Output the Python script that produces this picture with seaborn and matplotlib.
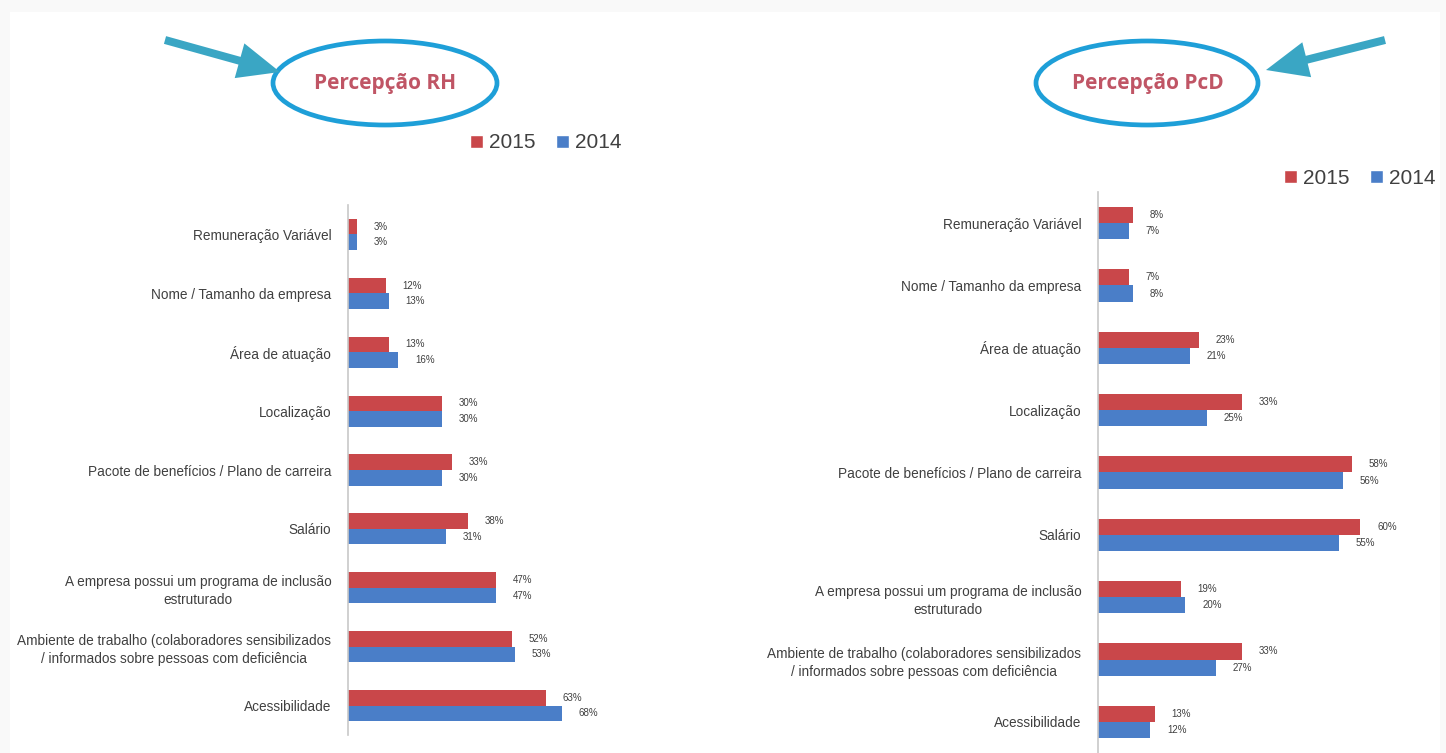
import matplotlib
matplotlib.use("Agg")
import matplotlib.pyplot as plt
import seaborn as sns
import pandas as pd
from matplotlib.patches import Ellipse, FancyArrow, Patch

categories = [
    "Remuneração Variável",
    "Nome / Tamanho da empresa",
    "Área de atuação",
    "Localização",
    "Pacote de benefícios / Plano de carreira",
    "Salário",
    "A empresa possui um programa de inclusão\nestruturado",
    "Ambiente de trabalho (colaboradores sensibilizados\n/ informados sobre pessoas com deficiência",
    "Acessibilidade",
]
years = ["2015", "2014"]
rh_2015 = [3, 12, 13, 30, 33, 38, 47, 52, 63]
rh_2014 = [3, 13, 16, 30, 30, 31, 47, 53, 68]
pcd_2015 = [8, 7, 23, 33, 58, 60, 19, 33, 13]
pcd_2014 = [7, 8, 21, 25, 56, 55, 20, 27, 12]
titles = ["Percepção RH", "Percepção PcD"]

RED = "#c9474a"
BLUE = "#4a7ec8"
TXT = "#404040"

sns.set_theme(style="white")
plt.rcParams["font.family"] = ["Liberation Sans", "DejaVu Sans"]

def long_df(v15, v14):
    rows = []
    for c, a, b in zip(categories, v15, v14):
        rows.append({"cat": c, "year": years[0], "val": a})
        rows.append({"cat": c, "year": years[1], "val": b})
    return pd.DataFrame(rows)

fig = plt.figure(figsize=(14.46, 7.53), dpi=100, facecolor="#f9f9f9")

# overlay for decorations in pixel coords
ov = fig.add_axes([0, 0, 1, 1], zorder=0)
ov.set_xlim(0, 1446)
ov.set_ylim(753, 0)
ov.axis("off")
ov.add_patch(plt.Rectangle((10, 12), 1430, 741, facecolor="white", edgecolor="none"))

W, H = 1446, 753
panels = [
    dict(x0=348, w=236, top=205, bot=735, data=(rh_2015, rh_2014), width=0.53,
         title_xy=(385, 83), ell=(385, 83, 224, 84),
         arrow=((165, 40), (280, 72)), leg=(546, 143)),
    dict(x0=1098, w=328, top=192, bot=753, data=(pcd_2015, pcd_2014), width=0.52,
         title_xy=(1148, 83), ell=(1147, 83, 222, 84),
         arrow=((1385, 40), (1266, 70)), leg=(1360, 178)),
]

for i, p in enumerate(panels):
    ax = fig.add_axes([p["x0"] / W, (H - p["bot"]) / H, p["w"] / W, (p["bot"] - p["top"]) / H], zorder=2)
    ax.set_facecolor("none")
    df = long_df(*p["data"])
    sns.barplot(data=df, y="cat", x="val", hue="year", orient="h",
                palette=[RED, BLUE], width=p["width"], ax=ax, legend=False,
                saturation=1, edgecolor="none")
    ax.set_xlim(0, 75)
    ax.set_xlabel("")
    ax.set_ylabel("")
    ax.set_xticks([])
    for s in ["top", "right", "bottom"]:
        ax.spines[s].set_visible(False)
    ax.spines["left"].set_color("#c8c8c8")
    ax.spines["left"].set_linewidth(1.2)
    ax.tick_params(axis="y", length=0, pad=12)
    for lab in ax.get_yticklabels():
        lab.set_fontsize(9.8)
        lab.set_color(TXT)
        lab.set_multialignment("center")
        lab.set_linespacing(1.35)
    for cont in ax.containers:
        ax.bar_label(cont, labels=[f"{int(v)}%" for v in cont.datavalues],
                     padding=12, fontsize=7, color=TXT)

    # title, ellipse, arrow
    ov.text(*p["title_xy"], titles[i], ha="center", va="center", fontsize=15,
            color="#c05565", fontweight="bold", family=["Open Sans", "DejaVu Sans"])
    ex, ey, ew, eh = p["ell"]
    ov.add_patch(Ellipse((ex, ey), ew, eh, fill=False, edgecolor="#1e9fd8", linewidth=3.4))
    (tx, ty), (hx, hy) = p["arrow"]
    ov.add_patch(FancyArrow(tx, ty, hx - tx, hy - ty, width=8, head_width=36,
                            head_length=42, length_includes_head=True,
                            color="#3aa6c4", linewidth=0))
    handles = [Patch(facecolor=RED, label=years[0]), Patch(facecolor=BLUE, label=years[1])]
    lx, ly = p["leg"]
    fig.legend(handles=handles, loc="center", bbox_to_anchor=(lx / W, 1 - ly / H),
               ncol=2, frameon=False, fontsize=15, handlelength=0.6, handleheight=0.6,
               handletextpad=0.3, columnspacing=1.0, labelcolor=TXT)

fig.savefig("out.png", dpi=100, facecolor=fig.get_facecolor())
